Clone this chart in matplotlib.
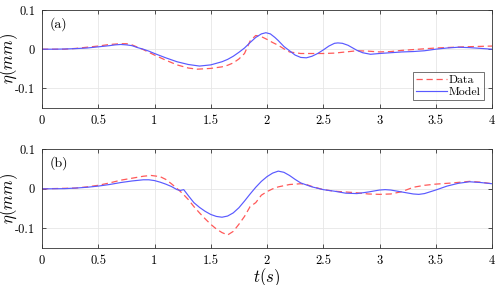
import numpy as np
import matplotlib
matplotlib.use("Agg")
from matplotlib import pyplot as plt

plt.rcParams['font.family'] = 'serif'
plt.rcParams['font.serif'] = ['cmr10', 'DejaVu Serif']
plt.rcParams['mathtext.fontset'] = 'cm'
plt.rcParams['axes.unicode_minus'] = False

# panel (a)
t_a_data = [0, 0.2, 0.3, 0.4, 0.5, 0.6, 0.7, 0.75, 0.8, 0.85, 0.9, 0.95, 1.0, 1.1, 1.2, 1.3, 1.38, 1.5, 1.6,
            1.65, 1.7, 1.75, 1.8, 1.85, 1.9, 1.95, 2.0, 2.05, 2.1, 2.15, 2.2, 2.3, 2.4, 2.5, 2.6, 2.7, 2.8,
            2.9, 3.0, 3.1, 3.2, 3.35, 3.5, 3.75, 4.0]
eta_a_data = [0, 0.0, 0.002, 0.005, 0.008, 0.012, 0.014, 0.014, 0.011, 0.005, -0.001, -0.008, -0.015, -0.028,
              -0.040, -0.048, -0.051, -0.049, -0.045, -0.041, -0.035, -0.025, -0.011, 0.021, 0.035, 0.032,
              0.025, 0.017, 0.010, 0.001, -0.007, -0.011, -0.011, -0.011, -0.010, -0.007, -0.004, -0.005,
              -0.007, -0.006, -0.003, 0.0, 0.003, 0.006, 0.008]
t_a_model = [0, 0.1, 0.2, 0.3, 0.4, 0.5, 0.6, 0.65, 0.7, 0.75, 0.8, 0.85, 0.9, 0.95, 1.0, 1.1, 1.2, 1.3, 1.4,
             1.5, 1.6, 1.65, 1.7, 1.75, 1.8, 1.85, 1.9, 1.95, 1.99, 2.03, 2.07, 2.1, 2.15, 2.2, 2.25, 2.3,
             2.35, 2.4, 2.45, 2.5, 2.55, 2.6, 2.63, 2.67, 2.72, 2.8, 2.85, 2.92, 3.0, 3.1, 3.2, 3.3, 3.4,
             3.5, 3.6, 3.7, 3.8, 3.9, 4.0]
eta_a_model = [0, 0.0, 0.0005, 0.0015, 0.003, 0.006, 0.009, 0.011, 0.012, 0.011, 0.009, 0.004, 0.0, -0.005,
               -0.011, -0.022, -0.032, -0.039, -0.043, -0.040, -0.032, -0.026, -0.018, -0.008, 0.003, 0.017,
               0.030, 0.039, 0.042, 0.039, 0.030, 0.022, 0.007, -0.004, -0.015, -0.021, -0.022, -0.018,
               -0.011, -0.002, 0.008, 0.015, 0.016, 0.015, 0.010, -0.003, -0.009, -0.013, -0.011, -0.009,
               -0.007, -0.006, -0.004, 0.0, 0.003, 0.005, 0.004, 0.002, 0.0]

# panel (b)
t_b_data = [0, 0.3, 0.4, 0.5, 0.6, 0.7, 0.8, 0.9, 0.97, 1.05, 1.1, 1.15, 1.2, 1.25, 1.3, 1.35, 1.4, 1.45, 1.5,
            1.55, 1.6, 1.65, 1.7, 1.75, 1.8, 1.85, 1.9, 1.95, 2.0, 2.05, 2.1, 2.2, 2.3, 2.35, 2.4, 2.5, 2.6,
            2.7, 2.8, 2.9, 3.0, 3.1, 3.2, 3.3, 3.4, 3.5, 3.65, 3.8, 3.9, 4.0]
eta_b_data = [0, 0.002, 0.005, 0.009, 0.015, 0.022, 0.027, 0.032, 0.034, 0.031, 0.024, 0.013, 0.001, -0.012,
              -0.027, -0.045, -0.061, -0.076, -0.090, -0.102, -0.111, -0.117, -0.108, -0.090, -0.070, -0.045,
              -0.035, -0.016, -0.007, 0.0, 0.005, 0.011, 0.013, 0.011, 0.006, -0.002, -0.006, -0.008, -0.010,
              -0.013, -0.014, -0.013, -0.007, 0.004, 0.009, 0.012, 0.015, 0.019, 0.017, 0.013]
t_b_model = [0, 0.2, 0.3, 0.4, 0.5, 0.6, 0.7, 0.8, 0.9, 0.95, 1.0, 1.05, 1.1, 1.15, 1.2, 1.23, 1.26, 1.3, 1.35,
             1.4, 1.45, 1.5, 1.55, 1.6, 1.65, 1.7, 1.75, 1.8, 1.85, 1.9, 1.95, 2.0, 2.05, 2.1, 2.15, 2.2, 2.25,
             2.3, 2.4, 2.5, 2.6, 2.7, 2.8, 2.9, 3.0, 3.05, 3.1, 3.2, 3.3, 3.35, 3.4, 3.5, 3.6, 3.7, 3.8, 3.9,
             4.0]
eta_b_model = [0, 0.0005, 0.002, 0.004, 0.007, 0.011, 0.016, 0.020, 0.023, 0.023, 0.021, 0.017, 0.012, 0.006,
               -0.002, -0.004, -0.002, -0.017, -0.035, -0.047, -0.057, -0.065, -0.070, -0.072, -0.069, -0.061,
               -0.048, -0.031, -0.013, 0.004, 0.019, 0.031, 0.040, 0.045, 0.042, 0.034, 0.024, 0.015, 0.005,
               -0.002, -0.006, -0.011, -0.012, -0.008, -0.003, -0.002, -0.003, -0.008, -0.013, -0.014, -0.012,
               -0.003, 0.007, 0.014, 0.018, 0.016, 0.013]

xticks = [0, 0.5, 1, 1.5, 2, 2.5, 3, 3.5, 4]
xlabels = ['0', '0.5', '1', '1.5', '2', '2.5', '3', '3.5', '4']
yticks = [-0.1, 0, 0.1]
ylabels = ['-0.1', '0', '0.1']

red = (1.0, 0.35, 0.35)
blue = (0.35, 0.35, 1.0)

fig = plt.figure(figsize=(5, 2.85), dpi=100)
ax1 = fig.add_axes([0.084, 0.621, 0.9, 0.344])
ax2 = fig.add_axes([0.084, 0.130, 0.9, 0.3456])

panels = [(ax1, t_a_data, eta_a_data, t_a_model, eta_a_model, '(a)'),
          (ax2, t_b_data, eta_b_data, t_b_model, eta_b_model, '(b)')]

for ax, td, ed, tm, em, lab in panels:
    ax.plot(td, ed, '--', color=red, lw=0.9, dashes=(5, 3), label='Data')
    ax.plot(tm, em, '-', color=blue, lw=0.85, label='Model')
    ax.set_xlim(0, 4)
    ax.set_ylim(-0.15, 0.1)
    ax.set_xticks(xticks)
    ax.set_xticklabels(xlabels)
    ax.set_yticks(yticks)
    ax.set_yticklabels(ylabels)
    ax.grid(True, color=(0.9, 0.9, 0.9), lw=0.6)
    ax.set_axisbelow(True)
    ax.tick_params(direction='in', top=True, right=True, length=3, width=0.6, labelsize=9, pad=5,
                   color=(0.2, 0.2, 0.2))
    for s in ax.spines.values():
        s.set_color((0.2, 0.2, 0.2))
        s.set_linewidth(0.6)
    ax.set_ylabel(r'$\eta(mm)$', fontsize=12)
    ax.yaxis.set_label_coords(-0.048, 0.5)
    ax.text(0.016, 0.857, lab, fontsize=10, va='center', transform=ax.transAxes)

leg = ax1.legend(loc='lower right', fontsize=8.5, frameon=True, fancybox=False, handlelength=2.6,
                 borderpad=0.25, labelspacing=0.1, handletextpad=0.2, borderaxespad=0.7)
leg.get_frame().set_edgecolor((0.2, 0.2, 0.2))
leg.get_frame().set_linewidth(0.6)

ax2.set_xlabel(r'$t(s)$', fontsize=12)
ax2.xaxis.set_label_coords(0.5, -0.185)

fig.savefig('out.png', dpi=100)
